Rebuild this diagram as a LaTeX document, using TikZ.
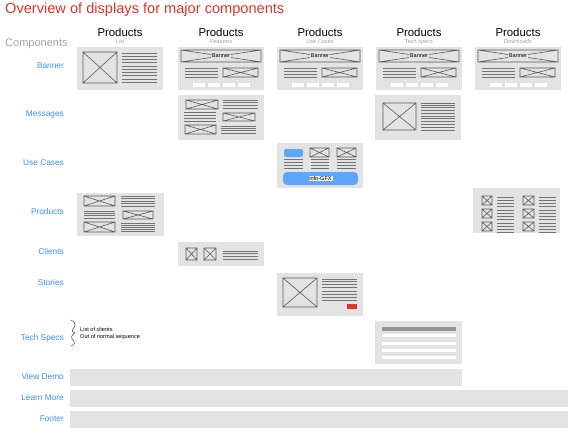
\documentclass[tikz,border=0pt]{standalone}
\usepackage{fontspec}
\setmainfont{Liberation Sans}
\definecolor{ttlred}{HTML}{E3312B}
\definecolor{lblblue}{HTML}{3B8EE8}
\definecolor{cmpgray}{HTML}{A3A3A3}
\definecolor{boxfill}{HTML}{E3E3E3}
\definecolor{sketch}{HTML}{5A5A5A}
\definecolor{gfxblue}{HTML}{5EA6FA}
\newcommand\wfX[4]{\draw[xln] (#1,#2) rectangle (#3,#4) (#1,#2) -- (#3,#4) (#1,#4) -- (#3,#2);}
\newcommand\wfL[5]{\foreach \k in {1,...,#5} \draw[tln] (#1,{#3+(\k-1)*(#4-#3)/(#5-1)}) -- (#2,{#3+(\k-1)*(#4-#3)/(#5-1)});}
\newcommand\wfBanner[1]{%
  \begin{scope}[shift={(#1,0)}]
    \fill[boxfill] (0,47) rectangle (86,90);
    \draw[xln] (3,50) rectangle (83,62) (3,50) -- (83,62) (3,62) -- (83,50);
    \node[tiny, fill=boxfill, inner sep=0.6pt] at (43,56) {Banner};
    \wfL{7}{40}{68}{77}{4}
    \wfX{45}{68}{80}{77}
    \foreach \a in {15,30,45,60} \fill[white] (\a,83) rectangle (\a+12,87);
  \end{scope}}
\tikzset{
  xln/.style={draw=sketch, line width=0.6pt},
  tln/.style={draw=sketch!85, line width=0.5pt},
  boxbg/.style={fill=boxfill},
  lbl/.style={text=lblblue, font=\fontsize{8.3}{9}\selectfont, anchor=east, inner sep=0pt},
  hdr/.style={font=\fontsize{11.4}{12}\selectfont, anchor=base, inner sep=0pt},
  sub/.style={font=\fontsize{5.6}{6}\selectfont, text=cmpgray, anchor=base, inner sep=0pt},
  tiny/.style={font=\fontsize{5.6}{6}\selectfont},
  note/.style={font=\fontsize{5.6}{6}\selectfont, anchor=west, inner sep=0pt},
  barbg/.style={fill=boxfill}
}
\begin{document}
\begin{tikzpicture}[x=1pt,y=-1pt]
\useasboundingbox (0,0) rectangle (568,434);
% title
\node[anchor=base west, inner sep=0pt, text=ttlred, font=\fontsize{14.6}{15}\selectfont] (title) at (5,13.5) {Overview of displays for major components};
\node[anchor=base west, inner sep=0pt, text=cmpgray, font=\fontsize{11}{12}\selectfont] (comp) at (5,46) {Components};
% headers
\foreach \cx/\st [count=\i] in {120/List,221/Features,320/Use Cases,419/Tech specs,518/Downloads}{
  \node[hdr] (h\i) at (\cx,36) {Products};
  \node[sub] (s\i) at (\cx,43) {\st};
}
% row labels
\node[lbl] (lbanner) at (64,66) {Banner};
\node[lbl] (lmsg) at (64,115) {Messages};
\node[lbl] (luse) at (64,163) {Use Cases};
\node[lbl] (lprod) at (64,212) {Products};
\node[lbl] (lcli) at (64,252) {Clients};
\node[lbl] (lsto) at (64,283) {Stories};
\node[lbl] (ltech) at (64,338) {Tech Specs};
\node[lbl] (ldemo) at (64,377) {View Demo};
\node[lbl] (llearn) at (64,398) {Learn More};
\node[lbl] (lfoot) at (64,419) {Footer};
% Banner row, col1
\fill[boxfill] (77,47) rectangle (163,90);
\wfX{83}{52}{117}{83}
\wfL{122}{157}{53}{62}{4}
\wfL{122}{157}{66}{82}{6}
% Banner rows, cols 2-5
\wfBanner{178}
\wfBanner{277}
\wfBanner{376}
\wfBanner{475}
% Messages col2
\fill[boxfill] (178,95) rectangle (264,140);
\wfX{186}{100}{218}{109}
\wfL{223}{258}{100}{108}{4}
\wfL{184}{216}{112}{121}{4}
\wfX{223}{113}{255}{121}
\wfX{185}{125}{216}{134}
\wfL{221}{256}{126}{133}{4}
% Messages col4
\fill[boxfill] (375,95) rectangle (461,140);
\wfX{383}{103}{416}{130}
\wfL{421}{455}{103}{110}{4}
\wfL{421}{455}{113}{130}{7}
% Use cases col3
\fill[boxfill] (277,143) rectangle (363,188);
\fill[gfxblue, rounded corners=2pt] (284,149) rectangle (303,157);
\wfX{310}{148}{329}{157}
\wfX{337}{148}{356}{157}
\wfL{284}{303}{159}{168}{4}
\wfL{311}{329}{159}{168}{4}
\wfL{337}{356}{159}{168}{4}
\fill[gfxblue, rounded corners=4pt] (283,172) rectangle (358,185);
\node[tiny, fill=boxfill!60!white, inner sep=0.8pt] (gfx) at (320.5,178.5) {info-GFX};
% Products col1
\fill[boxfill] (77,193) rectangle (164,236);
\wfX{84}{196}{115}{206}
\wfL{121}{155}{196}{206}{5}
\wfL{84}{115}{211}{218}{4}
\wfX{123}{211}{153}{219}
\wfX{84}{222}{115}{232}
\wfL{121}{155}{223}{231}{5}
% Products col5
\fill[boxfill] (473,188) rectangle (560,233);
\foreach \yy in {196,209,222}{
  \wfX{482}{\yy}{492}{\yy+9}
  \wfL{497}{514}{\yy+1}{\yy+8}{4}
  \wfX{523}{\yy}{534}{\yy+9}
  \wfL{539}{556}{\yy+1}{\yy+8}{4}
}
% Clients col2
\fill[boxfill] (178,242) rectangle (264,266);
\wfX{186}{248}{197}{260}
\wfX{204}{248}{216}{260}
\wfL{223}{258}{251}{259}{4}
% Stories col3
\fill[boxfill] (277,273) rectangle (363,316);
\wfX{283}{278}{317}{307}
\wfL{322}{357}{279}{287}{4}
\wfL{322}{357}{291}{300}{4}
\fill[ttlred] (347,304) rectangle (357,309);
% Tech specs col4
\fill[boxfill] (375,321) rectangle (462,364);
\fill[gray!85] (382,327) rectangle (456,331);
\foreach \yy in {334,342,349,356} \fill[white] (382,\yy) rectangle (456,\yy+3);
% brace and note
\draw[sketch, line width=0.6pt] (71,320) .. controls (76,322) and (76,326) .. (73,329) .. controls (71,331) and (72,332) .. (75,333) .. controls (72,335) and (70,337) .. (73,340) .. controls (76,343) and (74,345) .. (71,346);
\node[note] (n1) at (80,329) {List of clients};
\node[note] (n2) at (80,337) {Out of normal sequence};
% bars
\fill[boxfill] (70,369) rectangle (462,386);
\fill[boxfill] (70,390) rectangle (568,407);
\fill[boxfill] (70,411) rectangle (568,428);
\end{tikzpicture}
\end{document}
